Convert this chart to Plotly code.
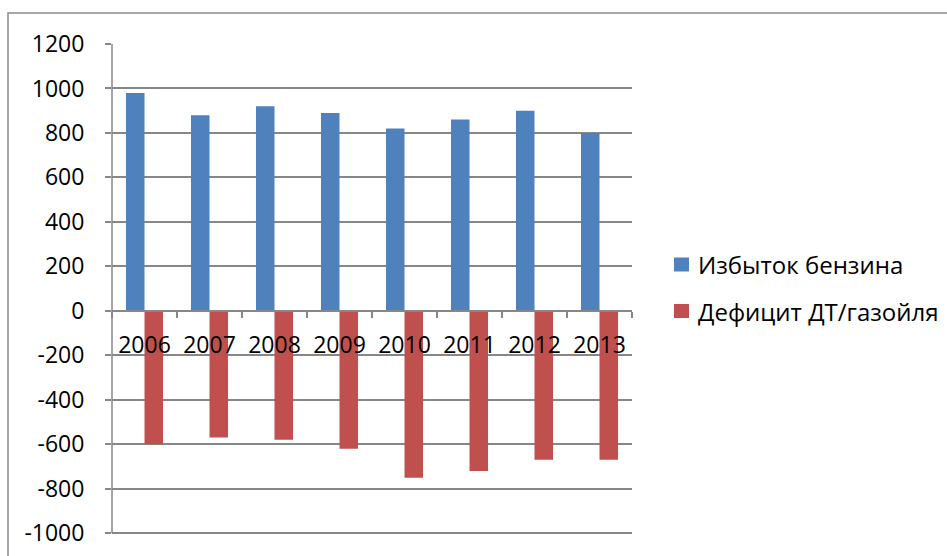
import plotly.graph_objects as go

# Annual surplus of gasoline and deficit of diesel / gasoil
years = ["2006", "2007", "2008", "2009", "2010", "2011", "2012", "2013"]
gasoline_surplus = [980, 880, 920, 890, 820, 860, 900, 800]
diesel_deficit = [-600, -570, -580, -620, -750, -720, -670, -670]
y_ticks = [1200, 1000, 800, 600, 400, 200, 0, -200, -400, -600, -800, -1000]
series_names = ["Избыток бензина", "Дефицит ДТ/газойля"]
series_colors = ["#4F81BD", "#C0504D"]

FONT = "Open Sans"
GRID = "#878787"
TICK_SIZE = 23

# plot-area geometry in pixels (used to place the hand-drawn legend)
W, H = 947, 556
ML, MR, MT, MB = 112, 315, 44, 21
PW, PH = W - ML - MR, H - MT - MB


def px_x(px):
    return (px - ML) / PW


def px_y(py):
    return (H - MB - py) / PH


fig = go.Figure()
for name, vals, col in zip(series_names, [gasoline_surplus, diesel_deficit], series_colors):
    fig.add_trace(go.Bar(x=years, y=vals, name=name,
                         marker=dict(color=col, line=dict(width=0))))

# small padding below the lowest tick so its gridline stays inside the plot
y_min, y_max = y_ticks[-1], y_ticks[0]
y_lo = y_min - 8
zero_pos = (0 - y_lo) / (y_max - y_lo)

shapes = [
    # outer chart-area frame
    dict(type="rect", xref="paper", yref="paper",
         x0=px_x(8), x1=2.0, y0=-1.0, y1=px_y(13),
         line=dict(color="#8c8c8c", width=1.5), fillcolor="rgba(0,0,0,0)",
         layer="below"),
]
annotations = []
# legend: colour square + label for each series
for i, (name, col) in enumerate(zip(series_names, series_colors)):
    cy = 264.5 + i * 46.5
    shapes.append(dict(type="rect", xref="paper", yref="paper",
                       x0=px_x(674), x1=px_x(689), y0=px_y(cy + 7), y1=px_y(cy - 7),
                       line=dict(width=0), fillcolor=col, layer="above"))
    annotations.append(dict(xref="paper", yref="paper", x=px_x(696), y=px_y(cy),
                            xanchor="left", yanchor="middle", showarrow=False,
                            text=name, font=dict(family=FONT, size=24, color="black")))

fig.update_layout(
    width=W, height=H,
    margin=dict(l=ML, r=MR, t=MT, b=MB),
    paper_bgcolor="white", plot_bgcolor="white",
    barmode="group", bargap=0.43, bargroupgap=0,
    font=dict(family=FONT, size=TICK_SIZE, color="black"),
    showlegend=False,
    xaxis=dict(type="category", anchor="free", position=zero_pos,
               automargin=False, tickangle=0,
               showline=True, linecolor=GRID, linewidth=1.5,
               ticks="outside", tickson="boundaries", ticklen=6,
               tickcolor=GRID, tickwidth=1.5, showgrid=False,
               ticklabelstandoff=14,
               tickfont=dict(family=FONT, size=TICK_SIZE, color="black")),
    yaxis=dict(range=[y_lo, y_max], tickvals=y_ticks,
               ticktext=[str(v) for v in y_ticks], automargin=False,
               showline=False, ticks="outside", ticklen=6, tickcolor=GRID,
               tickwidth=1.5, showgrid=True, gridcolor=GRID, gridwidth=1.5,
               zeroline=False, ticklabelstandoff=16,
               tickfont=dict(family=FONT, size=TICK_SIZE, color="black")),
    shapes=shapes + [
        # value-axis line running from the top tick to the bottom tick
        dict(type="line", xref="paper", yref="y", x0=0, x1=0,
             y0=y_min, y1=y_max, line=dict(color=GRID, width=1.5), layer="above"),
    ],
    annotations=annotations,
)

fig.write_html("out.html")
